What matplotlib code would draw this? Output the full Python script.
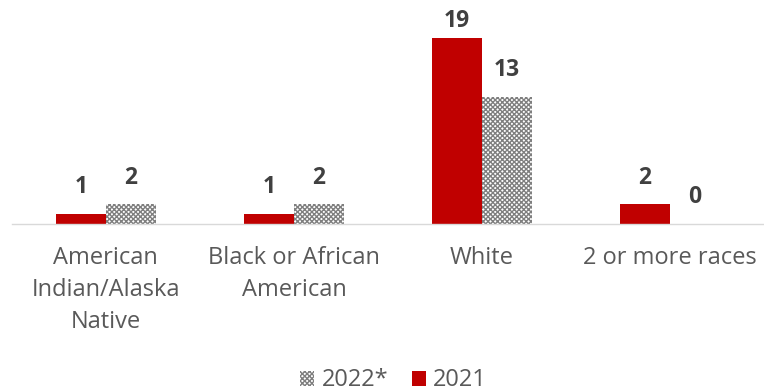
import numpy as np
import matplotlib.pyplot as plt
from matplotlib.patches import Patch

plt.rcParams['font.family'] = ['Open Sans', 'DejaVu Sans']
plt.rcParams['hatch.linewidth'] = 1.0

categories = ['American\nIndian/Alaska\nNative', 'Black or African\nAmerican', 'White', '2 or more races']
values_2021 = [1, 1, 19, 2]
values_2022 = [2, 2, 13, 0]

red = '#c00000'
hatch_gray = '#7f7f7f'
text_gray = '#595959'
label_gray = '#404040'

fig = plt.figure(figsize=(7.64, 3.91), dpi=100)
ax = fig.add_axes([0.0155, 0.427, 0.9845, 0.573])

x = np.arange(len(categories))
w = 0.265

b21 = ax.bar(x - w / 2, values_2021, w, color=red, edgecolor='none', zorder=2)
b22 = ax.bar(x + w / 2, values_2022, w, color='white', edgecolor=hatch_gray,
             hatch='xxxxxxx', linewidth=0, zorder=2)

# labels sit above the bars, but stay inside the plot area
for bars, vals in [(b21, values_2021), (b22, values_2022)]:
    for b, v in zip(bars, vals):
        ax.text(b.get_x() + b.get_width() / 2, min(v + 2.75, 20.8), str(v),
                ha='center', va='center', fontsize=16.5, fontweight='bold',
                color=label_gray)

ax.set_xlim(-0.5, 3.5)
ax.set_ylim(0, 22.9)
ax.set_yticks([])
ax.set_xticks(x)
ax.set_xticklabels(categories, fontsize=17, color=text_gray, linespacing=1.45)
ax.tick_params(axis='x', length=0, pad=16)
for s in ['top', 'right', 'left']:
    ax.spines[s].set_visible(False)
ax.spines['bottom'].set_color('#d9d9d9')
ax.spines['bottom'].set_linewidth(1)

handles = [Patch(facecolor='white', edgecolor=hatch_gray, hatch='xxxxxxx', linewidth=0),
           Patch(facecolor=red, edgecolor='none')]
fig.legend(handles, ['2022*', '2021'], loc='center', bbox_to_anchor=(0.515, 0.027),
           ncol=2, frameon=False, fontsize=17, labelcolor=text_gray,
           handlelength=0.6, handleheight=0.6, handletextpad=0.3, columnspacing=1.0)

fig.savefig('out.png', dpi=100)
